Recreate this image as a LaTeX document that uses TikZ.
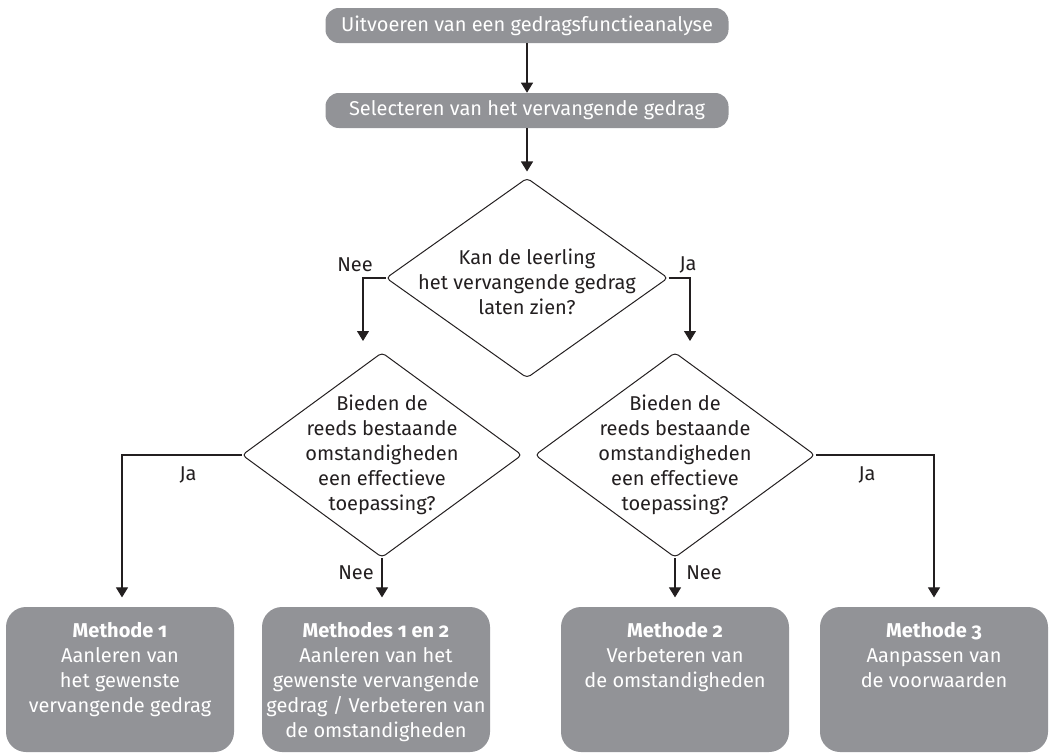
\documentclass[tikz,border=0pt]{standalone}
\usepackage{fontspec}
\setmainfont{Fira Sans}[Numbers=OldStyle]
\usetikzlibrary{arrows.meta,positioning,shapes.geometric}
\definecolor{boxgray}{RGB}{146,147,151}
\definecolor{linegray}{RGB}{35,31,32}

\begin{document}
\begin{tikzpicture}[x=0.75pt,y=-0.75pt,
  font=\fontsize{15}{18.75}\selectfont,
  stepbox/.style={rectangle, rounded corners=10pt, fill=boxgray, text=white, minimum width=302.25pt, minimum height=26.25pt, inner sep=0pt},
  question/.style={diamond, rounded corners=3pt, draw=linegray, line width=0.75pt, inner sep=0pt},
  qtext/.style={align=center, text=linegray},
  method/.style={rectangle, rounded corners=15pt, fill=boxgray, minimum width=171pt, minimum height=108.75pt, inner sep=0pt},
  mtext/.style={align=center, text=white, anchor=north},
  lbl/.style={text=linegray},
  arr/.style={draw=linegray, line width=0.8pt, -{Triangle[width=9pt,length=7.5pt]}}]
\useasboundingbox (0,0) rectangle (1049,753);

% Steps
\node[stepbox] (s1) at (527,25.5) {Uitvoeren van een gedragsfunctieanalyse};
\node[stepbox] (s2) at (527,110.5) {Selecteren van het vervangende gedrag};

% Questions
\node[question, minimum width=211.5pt, minimum height=150pt] (q1) at (527,278) {};
\node[qtext] (q1t) at (527,282) {Kan de leerling\\het vervangende gedrag\\laten zien?};
\node[question, minimum width=210pt, minimum height=153.75pt] (q2) at (382,455) {};
\node[qtext] (q2t) at (q2) {Bieden de\\reeds bestaande\\omstandigheden\\een effectieve\\toepassing?};
\node[question, minimum width=210pt, minimum height=153.75pt] (q3) at (675,455) {};
\node[qtext] (q3t) at (q3) {Bieden de\\reeds bestaande\\omstandigheden\\een effectieve\\toepassing?};

% Methods
\node[method] (m1) at (120,679.5) {};
\node[mtext, below=8pt of m1.north] (m1t) {\textbf{Methode 1}\\Aanleren van\\het gewenste\\vervangende gedrag};
\node[method] (m2) at (376,679.5) {};
\node[mtext, below=8pt of m2.north] (m2t) {\textbf{Methodes 1 en 2}\\Aanleren van het\\gewenste vervangende\\gedrag / Verbeteren van\\de omstandigheden};
\node[method] (m3) at (675,679.5) {};
\node[mtext, below=8pt of m3.north] (m3t) {\textbf{Methode 2}\\Verbeteren van\\de omstandigheden};
\node[method] (m4) at (934,679.5) {};
\node[mtext, below=8pt of m4.north] (m4t) {\textbf{Methode 3}\\Aanpassen van\\de voorwaarden};

% Connectors
\draw[arr] (s1) -- (s2);
\draw[arr, shorten >=4.5pt] (s2) -- (q1);
\draw[arr, shorten >=8.25pt] (q1.west) -| ([xshift=-14.25pt]q2.north);
\draw[arr, shorten >=8.25pt] (q1.east) -| ([xshift=11.25pt]q3.north);
\draw[arr, shorten >=7pt] (q2.west) -| ([xshift=1.5pt]m1.north);
\draw[arr, shorten >=7pt] (q2.south) -- (q2.south |- m2.north);
\draw[arr, shorten >=7pt] (q3.south) -- (q3.south |- m3.north);
\draw[arr, shorten >=7pt] (q3.east) -| (m4.north);

% Labels
\node[lbl] (l1) at (355,265) {Nee};
\node[lbl] (l2) at (688,265) {Ja};
\node[lbl] (l3) at (188,475) {Ja};
\node[lbl] (l4) at (867,475) {Ja};
\node[lbl] (l5) at (356,573) {Nee};
\node[lbl] (l6) at (704,573) {Nee};

\end{tikzpicture}
\end{document}
